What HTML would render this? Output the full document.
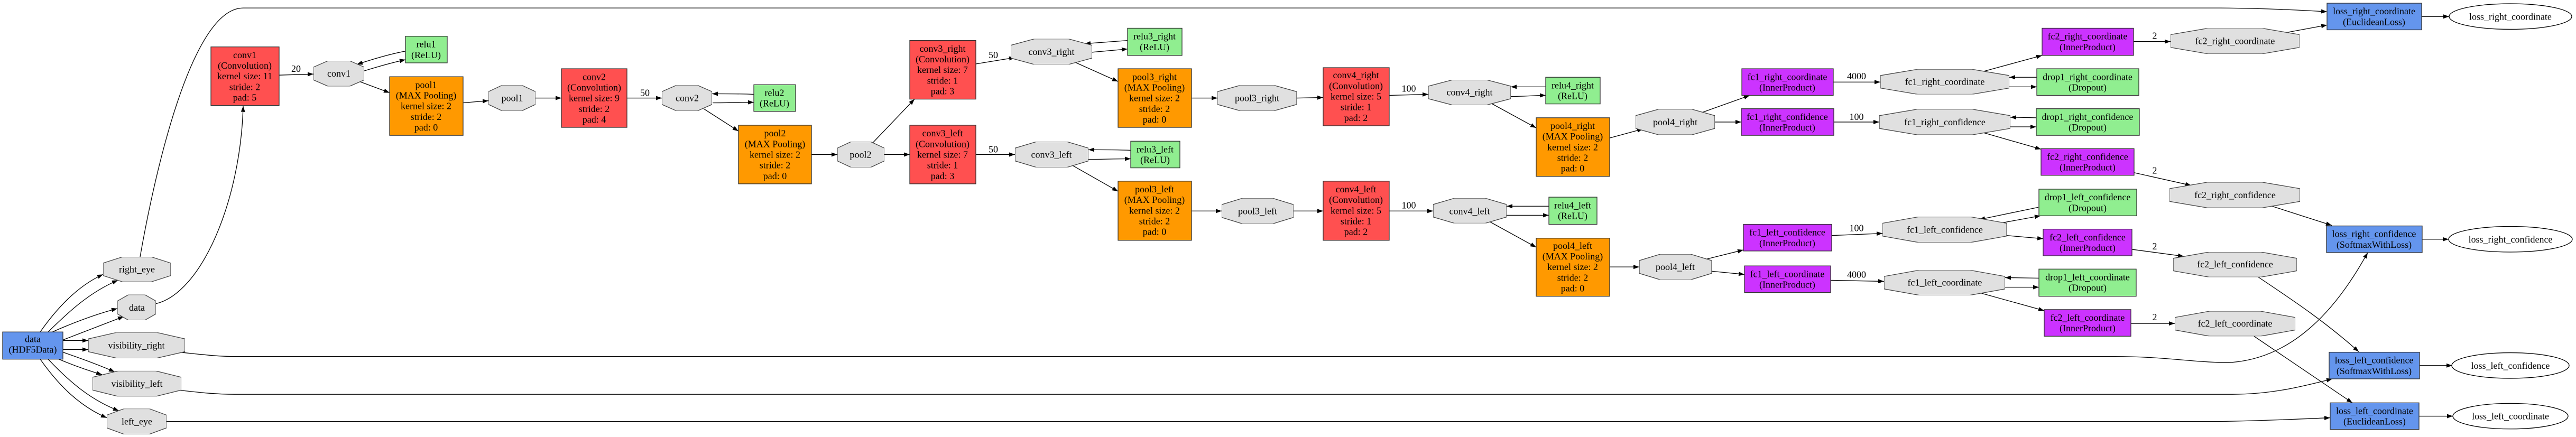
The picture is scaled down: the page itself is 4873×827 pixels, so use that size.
<!DOCTYPE html>
<html><head><meta charset="utf-8"><style>
html,body{margin:0;padding:0;background:#fff;width:4873px;height:827px;overflow:hidden}
svg text{font-family:"Liberation Serif",serif;font-size:18px;fill:#000;text-anchor:middle}
.e{fill:none;stroke:#000;stroke-width:1.3}
.r{stroke:#333;stroke-width:1.3}
.o polygon{fill:#E0E0E0;stroke:#444;stroke-width:1.3}
</style></head><body>
<svg width="4873" height="827" viewBox="0 0 4873 827" xmlns="http://www.w3.org/2000/svg">
<defs>
<marker id="a" markerWidth="11" markerHeight="8" refX="11" refY="4" orient="auto" markerUnits="userSpaceOnUse"><path d="M0,0 L11,4 L0,8 z" fill="#000"/></marker>
<symbol id="oct" viewBox="0 0 100 100" preserveAspectRatio="none"><polygon points="29,0 71,0 100,25 100,75 71,100 29,100 0,75 0,25" vector-effect="non-scaling-stroke" fill="#E0E0E0" stroke="#444" stroke-width="1.3"/></symbol>
</defs>
<g transform="scale(1,1.0084)">
<!-- edges -->
<g class="e" marker-end="url(#a)">
<path d="M76,623 C110,575 150,535 195,515"/>
<path d="M91,623 C130,585 170,548 223,526"/>
<path d="M99,623 C140,605 180,590 222,579"/>
<path d="M119,638 C160,622 200,607 234,594"/>
<path d="M119,639 L167,639"/>
<path d="M119,656 L167,656"/>
<path d="M119,661 C160,675 190,686 217,698"/>
<path d="M111,674 C140,686 165,695 193,703"/>
<path d="M91,674 C130,715 170,750 225,771"/>
<path d="M76,674 C110,722 150,762 202,784"/>
<path d="M265,482 C290,340 360,15 460,15 L4200,15 C4300,16 4350,19 4402,22"/>
<path d="M295,570 C380,550 455,380 460,199"/>
<path d="M340,661 C380,665 410,669 444,669 L4000,669 C4100,669 4160,682 4223,680 C4340,670 4420,580 4479,474"/>
<path d="M337,732 C380,737 410,740 444,740 L4223,740 C4300,740 4360,724 4412,711"/>
<path d="M315,791 L4200,791 C4300,789 4360,786 4408,784"/>
<path d="M528,141 L593,139"/>
<path d="M689,133 C715,125 740,118 767,112"/>
<path d="M767,96 C740,101 705,111 675,121"/>
<path d="M680,153 L737,174"/>
<path d="M876,193 L924,189"/>
<path d="M1013,184 L1062,184"/>
<path d="M1186,184 L1252,184"/>
<path d="M1348,193 C1380,193 1400,192 1426,192"/>
<path d="M1426,177 C1400,176 1375,176 1347,176"/>
<path d="M1331,204 L1397,246"/>
<path d="M1535,290 L1584,290"/>
<path d="M1651,268 L1730,186"/>
<path d="M1673,290 L1721,290"/>
<path d="M1846,120 L1920,108"/>
<path d="M2066,98 L2133,92"/>
<path d="M2133,76 L2052,82"/>
<path d="M2034,117 L2115,153"/>
<path d="M2254,184 L2303,184"/>
<path d="M1846,290 L1920,290"/>
<path d="M2059,299 C2090,299 2110,298 2139,298"/>
<path d="M2139,282 C2110,281 2090,281 2059,281"/>
<path d="M2028,310 L2115,359"/>
<path d="M2254,396 L2311,396"/>
<path d="M2453,184 L2503,183"/>
<path d="M2628,179 L2702,177"/>
<path d="M2858,181 C2885,181 2900,179 2924,179"/>
<path d="M2924,163 C2900,163 2885,163 2858,163"/>
<path d="M2821,194 L2906,240"/>
<path d="M3045,259 L3108,242"/>
<path d="M2447,396 L2503,396"/>
<path d="M2628,396 L2711,396"/>
<path d="M2850,404 C2880,404 2900,404 2930,404"/>
<path d="M2930,387 C2900,387 2880,387 2850,387"/>
<path d="M2818,416 L2906,464"/>
<path d="M3045,501 L3101,501"/>
<path d="M3220,211 L3310,179"/>
<path d="M3244,229 L3294,229"/>
<path d="M3225,487 L3298,469"/>
<path d="M3238,509 L3300,515"/>
<path d="M3468,154 L3557,154"/>
<path d="M3469,229 L3555,229"/>
<path d="M3465,442 L3561,438"/>
<path d="M3463,526 L3564,528"/>
<path d="M3752,134 L3863,104"/>
<path d="M3801,163 L3853,163"/>
<path d="M3853,145 L3801,145"/>
<path d="M3803,238 L3852,238"/>
<path d="M3852,221 L3803,220"/>
<path d="M3752,249 L3861,280"/>
<path d="M3788,418 L3860,405"/>
<path d="M3856,389 L3744,412"/>
<path d="M3796,442 L3865,448"/>
<path d="M3793,539 L3857,539"/>
<path d="M3857,522 L3793,521"/>
<path d="M3747,550 L3867,583"/>
<path d="M4036,78 L4106,78"/>
<path d="M4320,62 L4402,47"/>
<path d="M4581,31 L4633,31"/>
<path d="M4037,324 L4145,348"/>
<path d="M4295,386 L4411,423"/>
<path d="M4582,449 L4632,449"/>
<path d="M4033,468 L4131,481"/>
<path d="M4272,520 C4340,565 4400,605 4462,660"/>
<path d="M4577,686 L4639,686"/>
<path d="M4031,607 L4114,607"/>
<path d="M4264,631 L4450,756"/>
<path d="M4576,781 L4640,781"/>
</g>
<!-- edge labels -->
<text x="560" y="135">20</text>
<text x="1220" y="180">50</text>
<text x="1879" y="109">50</text>
<text x="1879" y="286">50</text>
<text x="2665" y="172">100</text>
<text x="2665" y="391">100</text>
<text x="3512" y="149">4000</text>
<text x="3512" y="225">100</text>
<text x="3512" y="434">100</text>
<text x="3512" y="521">4000</text>
<text x="4076" y="73">2</text>
<text x="4076" y="326">2</text>
<text x="4076" y="468">2</text>
<text x="4076" y="601">2</text>
<!-- octagons -->
<use href="#oct" x="195" y="482" width="128" height="47"/><text x="259" y="511">right_eye</text>
<use href="#oct" x="222" y="553" width="73" height="48"/><text x="259" y="583">data</text>
<use href="#oct" x="167" y="624" width="183" height="48"/><text x="258" y="654">visibility_right</text>
<use href="#oct" x="175" y="696" width="168" height="48"/><text x="259" y="726">visibility_left</text>
<use href="#oct" x="202" y="767" width="113" height="48"/><text x="259" y="797">left_eye</text>
<use href="#oct" x="593" y="114" width="96" height="48"/><text x="641" y="144">conv1</text>
<use href="#oct" x="924" y="160" width="89" height="48"/><text x="969" y="190">pool1</text>
<use href="#oct" x="1252" y="160" width="95" height="48"/><text x="1300" y="190">conv2</text>
<use href="#oct" x="1584" y="266" width="89" height="48"/><text x="1628" y="296">pool2</text>
<use href="#oct" x="1912" y="73" width="154" height="48"/><text x="1989" y="103">conv3_right</text>
<use href="#oct" x="2303" y="160" width="150" height="48"/><text x="2378" y="190">pool3_right</text>
<use href="#oct" x="1920" y="266" width="139" height="48"/><text x="1989" y="296">conv3_left</text>
<use href="#oct" x="2311" y="372" width="136" height="48"/><text x="2379" y="402">pool3_left</text>
<use href="#oct" x="2702" y="150" width="156" height="47"/><text x="2780" y="179">conv4_right</text>
<use href="#oct" x="3094" y="205" width="150" height="48"/><text x="3169" y="235">pool4_right</text>
<use href="#oct" x="2711" y="372" width="139" height="47"/><text x="2780" y="402">conv4_left</text>
<use href="#oct" x="3101" y="477" width="137" height="48"/><text x="3169" y="507">pool4_left</text>
<use href="#oct" x="3557" y="130" width="244" height="47"/><text x="3679" y="159">fc1_right_coordinate</text>
<use href="#oct" x="3555" y="205" width="248" height="48"/><text x="3679" y="235">fc1_right_confidence</text>
<use href="#oct" x="3561" y="407" width="235" height="48"/><text x="3679" y="437">fc1_left_confidence</text>
<use href="#oct" x="3564" y="507" width="229" height="47"/><text x="3679" y="536">fc1_left_coordinate</text>
<use href="#oct" x="4106" y="53" width="244" height="48"/><text x="4228" y="83">fc2_right_coordinate</text>
<use href="#oct" x="4104" y="342" width="247" height="48"/><text x="4228" y="372">fc2_right_confidence</text>
<use href="#oct" x="4111" y="473" width="234" height="47"/><text x="4228" y="502">fc2_left_confidence</text>
<use href="#oct" x="4114" y="584" width="228" height="47"/><text x="4228" y="613">fc2_left_coordinate</text>
<!-- rects -->
<g class="r">
<rect x="5" y="623" width="114" height="51" fill="#6495ED"/>
<rect x="399" y="88" width="129" height="110" fill="#FF5050"/>
<rect x="767" y="68" width="79" height="50" fill="#90EE90"/>
<rect x="737" y="144" width="139" height="110" fill="#FF9900"/>
<rect x="1062" y="129" width="124" height="110" fill="#FF5050"/>
<rect x="1426" y="159" width="79" height="50" fill="#90EE90"/>
<rect x="1397" y="235" width="138" height="110" fill="#FF9900"/>
<rect x="1721" y="76" width="125" height="110" fill="#FF5050"/>
<rect x="1721" y="235" width="125" height="110" fill="#FF5050"/>
<rect x="2133" y="53" width="103" height="51" fill="#90EE90"/>
<rect x="2115" y="129" width="139" height="110" fill="#FF9900"/>
<rect x="2139" y="265" width="93" height="50" fill="#90EE90"/>
<rect x="2115" y="340" width="139" height="111" fill="#FF9900"/>
<rect x="2503" y="127" width="125" height="109" fill="#FF5050"/>
<rect x="2924" y="145" width="103" height="50" fill="#90EE90"/>
<rect x="2906" y="221" width="139" height="110" fill="#FF9900"/>
<rect x="2503" y="340" width="125" height="111" fill="#FF5050"/>
<rect x="2930" y="370" width="91" height="51" fill="#90EE90"/>
<rect x="2906" y="447" width="139" height="109" fill="#FF9900"/>
<rect x="3295" y="129" width="173" height="50" fill="#CC33FF"/>
<rect x="3294" y="204" width="175" height="50" fill="#CC33FF"/>
<rect x="3298" y="421" width="167" height="50" fill="#CC33FF"/>
<rect x="3300" y="499" width="163" height="50" fill="#CC33FF"/>
<rect x="3863" y="53" width="173" height="51" fill="#CC33FF"/>
<rect x="3853" y="129" width="193" height="50" fill="#90EE90"/>
<rect x="3852" y="204" width="195" height="50" fill="#90EE90"/>
<rect x="3861" y="279" width="176" height="50" fill="#CC33FF"/>
<rect x="3857" y="355" width="185" height="50" fill="#90EE90"/>
<rect x="3865" y="430" width="168" height="50" fill="#CC33FF"/>
<rect x="3857" y="505" width="184" height="51" fill="#90EE90"/>
<rect x="3867" y="581" width="164" height="50" fill="#CC33FF"/>
<rect x="4402" y="6" width="179" height="50" fill="#6495ED"/>
<rect x="4401" y="424" width="181" height="50" fill="#6495ED"/>
<rect x="4406" y="661" width="171" height="50" fill="#6495ED"/>
<rect x="4408" y="756" width="168" height="50" fill="#6495ED"/>
</g>
<g fill="#fff" stroke="#000" stroke-width="1.3">
<ellipse cx="4749" cy="31" rx="116" ry="24"/>
<ellipse cx="4749" cy="449" rx="117" ry="24"/>
<ellipse cx="4749" cy="686" rx="111" ry="24"/>
<ellipse cx="4749" cy="781" rx="109" ry="24"/>
</g>
<text x="4749" y="37">loss_right_coordinate</text>
<text x="4749" y="455">loss_right_confidence</text>
<text x="4749" y="692">loss_left_confidence</text>
<text x="4749" y="787">loss_left_coordinate</text>
<!-- rect labels -->
<text x="62" y="642">data<tspan x="62" dy="20">(HDF5Data)</tspan></text>
<text x="463" y="109">conv1<tspan x="463" dy="20">(Convolution)</tspan><tspan x="463" dy="20">kernel size: 11</tspan><tspan x="463" dy="20">stride: 2</tspan><tspan x="463" dy="20">pad: 5</tspan></text>
<text x="806" y="89">relu1<tspan x="806" dy="20">(ReLU)</tspan></text>
<text x="806" y="165">pool1<tspan x="806" dy="20">(MAX Pooling)</tspan><tspan x="806" dy="20">kernel size: 2</tspan><tspan x="806" dy="20">stride: 2</tspan><tspan x="806" dy="20">pad: 0</tspan></text>
<text x="1124" y="150">conv2<tspan x="1124" dy="20">(Convolution)</tspan><tspan x="1124" dy="20">kernel size: 9</tspan><tspan x="1124" dy="20">stride: 2</tspan><tspan x="1124" dy="20">pad: 4</tspan></text>
<text x="1465" y="180">relu2<tspan x="1465" dy="20">(ReLU)</tspan></text>
<text x="1466" y="256">pool2<tspan x="1466" dy="20">(MAX Pooling)</tspan><tspan x="1466" dy="20">kernel size: 2</tspan><tspan x="1466" dy="20">stride: 2</tspan><tspan x="1466" dy="20">pad: 0</tspan></text>
<text x="1783" y="97">conv3_right<tspan x="1783" dy="20">(Convolution)</tspan><tspan x="1783" dy="20">kernel size: 7</tspan><tspan x="1783" dy="20">stride: 1</tspan><tspan x="1783" dy="20">pad: 3</tspan></text>
<text x="1783" y="256">conv3_left<tspan x="1783" dy="20">(Convolution)</tspan><tspan x="1783" dy="20">kernel size: 7</tspan><tspan x="1783" dy="20">stride: 1</tspan><tspan x="1783" dy="20">pad: 3</tspan></text>
<text x="2184" y="74">relu3_right<tspan x="2184" dy="20">(ReLU)</tspan></text>
<text x="2184" y="150">pool3_right<tspan x="2184" dy="20">(MAX Pooling)</tspan><tspan x="2184" dy="20">kernel size: 2</tspan><tspan x="2184" dy="20">stride: 2</tspan><tspan x="2184" dy="20">pad: 0</tspan></text>
<text x="2185" y="286">relu3_left<tspan x="2185" dy="20">(ReLU)</tspan></text>
<text x="2184" y="361">pool3_left<tspan x="2184" dy="20">(MAX Pooling)</tspan><tspan x="2184" dy="20">kernel size: 2</tspan><tspan x="2184" dy="20">stride: 2</tspan><tspan x="2184" dy="20">pad: 0</tspan></text>
<text x="2565" y="147">conv4_right<tspan x="2565" dy="20">(Convolution)</tspan><tspan x="2565" dy="20">kernel size: 5</tspan><tspan x="2565" dy="20">stride: 1</tspan><tspan x="2565" dy="20">pad: 2</tspan></text>
<text x="2975" y="166">relu4_right<tspan x="2975" dy="20">(ReLU)</tspan></text>
<text x="2975" y="242">pool4_right<tspan x="2975" dy="20">(MAX Pooling)</tspan><tspan x="2975" dy="20">kernel size: 2</tspan><tspan x="2975" dy="20">stride: 2</tspan><tspan x="2975" dy="20">pad: 0</tspan></text>
<text x="2565" y="361">conv4_left<tspan x="2565" dy="20">(Convolution)</tspan><tspan x="2565" dy="20">kernel size: 5</tspan><tspan x="2565" dy="20">stride: 1</tspan><tspan x="2565" dy="20">pad: 2</tspan></text>
<text x="2975" y="391">relu4_left<tspan x="2975" dy="20">(ReLU)</tspan></text>
<text x="2975" y="467">pool4_left<tspan x="2975" dy="20">(MAX Pooling)</tspan><tspan x="2975" dy="20">kernel size: 2</tspan><tspan x="2975" dy="20">stride: 2</tspan><tspan x="2975" dy="20">pad: 0</tspan></text>
<text x="3381" y="150">fc1_right_coordinate<tspan x="3381" dy="20">(InnerProduct)</tspan></text>
<text x="3381" y="225">fc1_right_confidence<tspan x="3381" dy="20">(InnerProduct)</tspan></text>
<text x="3381" y="442">fc1_left_confidence<tspan x="3381" dy="20">(InnerProduct)</tspan></text>
<text x="3381" y="520">fc1_left_coordinate<tspan x="3381" dy="20">(InnerProduct)</tspan></text>
<text x="3949" y="74">fc2_right_coordinate<tspan x="3949" dy="20">(InnerProduct)</tspan></text>
<text x="3949" y="150">drop1_right_coordinate<tspan x="3949" dy="20">(Dropout)</tspan></text>
<text x="3949" y="225">drop1_right_confidence<tspan x="3949" dy="20">(Dropout)</tspan></text>
<text x="3949" y="300">fc2_right_confidence<tspan x="3949" dy="20">(InnerProduct)</tspan></text>
<text x="3949" y="376">drop1_left_confidence<tspan x="3949" dy="20">(Dropout)</tspan></text>
<text x="3949" y="451">fc2_left_confidence<tspan x="3949" dy="20">(InnerProduct)</tspan></text>
<text x="3949" y="526">drop1_left_coordinate<tspan x="3949" dy="20">(Dropout)</tspan></text>
<text x="3949" y="602">fc2_left_coordinate<tspan x="3949" dy="20">(InnerProduct)</tspan></text>
<text x="4491" y="27">loss_right_coordinate<tspan x="4491" dy="20">(EuclideanLoss)</tspan></text>
<text x="4491" y="445">loss_right_confidence<tspan x="4491" dy="20">(SoftmaxWithLoss)</tspan></text>
<text x="4491" y="682">loss_left_confidence<tspan x="4491" dy="20">(SoftmaxWithLoss)</tspan></text>
<text x="4492" y="777">loss_left_coordinate<tspan x="4492" dy="20">(EuclideanLoss)</tspan></text>
</g>
</svg>
</body></html>
